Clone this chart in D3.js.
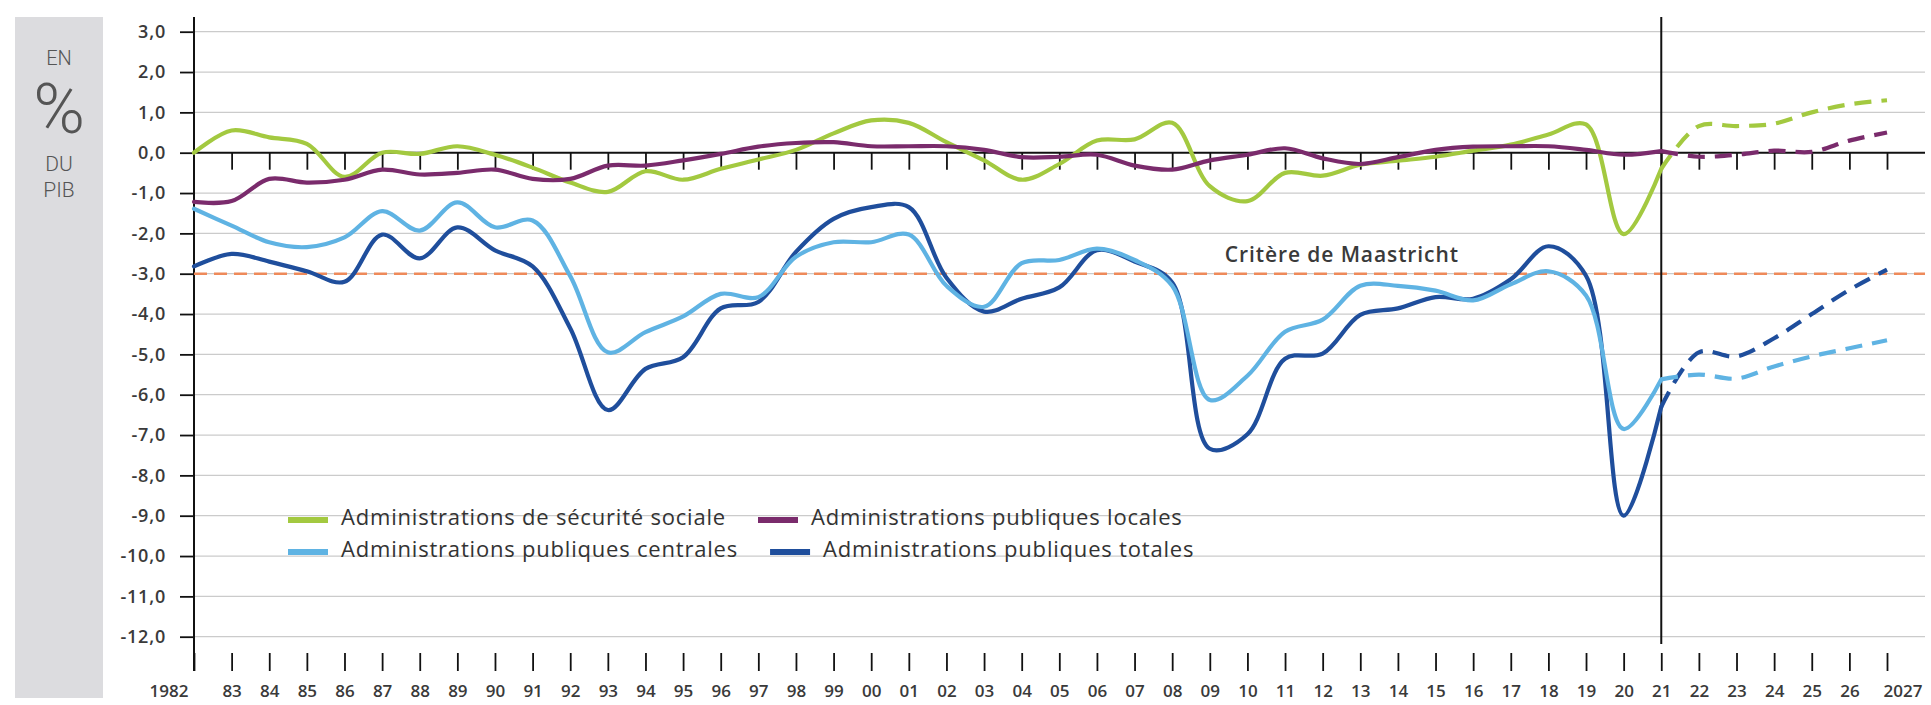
<!DOCTYPE html>
<html lang="fr">
<head>
<meta charset="utf-8">
<script src="https://cdn.jsdelivr.net/npm/d3@7"></script>
<style>
  body { margin: 0; background: #fff; }
  svg { display: block; font-family: "Open Sans", sans-serif; }
</style>
</head>
<body>
<svg id="chart" width="1931" height="705"></svg>
<script>
// observed years and the forecast years (forecast starts at the last observed point)
const years = d3.range(1982, 2022);
const projYears = d3.range(2021, 2028);

// solde en % du PIB
const secu = [0.0, 0.55, 0.38, 0.22, -0.6, 0.0, -0.03, 0.16, -0.05, -0.37,
  -0.74, -0.97, -0.46, -0.67, -0.4, -0.17, 0.07, 0.48, 0.8, 0.74,
  0.26, -0.19, -0.67, -0.28, 0.3, 0.33, 0.74, -0.83, -1.2, -0.5,
  -0.57, -0.3, -0.2, -0.1, 0.05, 0.2, 0.45, 0.7, -2.02, -0.4];
const locales = [-1.22, -1.2, -0.65, -0.74, -0.67, -0.42, -0.54, -0.5, -0.42, -0.65,
  -0.65, -0.32, -0.32, -0.19, -0.03, 0.15, 0.24, 0.26, 0.16, 0.16,
  0.16, 0.07, -0.11, -0.1, -0.05, -0.32, -0.42, -0.19, -0.05, 0.11,
  -0.14, -0.28, -0.11, 0.07, 0.15, 0.16, 0.16, 0.07, -0.05, 0.04];
const centrales = [-1.39, -1.81, -2.22, -2.34, -2.1, -1.45, -1.93, -1.23, -1.85, -1.68,
  -3.06, -4.95, -4.45, -4.06, -3.5, -3.58, -2.58, -2.22, -2.22, -2.03,
  -3.3, -3.82, -2.74, -2.66, -2.38, -2.66, -3.3, -6.13, -5.53, -4.44,
  -4.14, -3.3, -3.3, -3.42, -3.66, -3.26, -2.94, -3.54, -6.85, -5.62];
const totales = [-2.82, -2.51, -2.7, -2.94, -3.2, -2.03, -2.62, -1.85, -2.42, -2.82,
  -4.35, -6.38, -5.36, -5.07, -3.86, -3.7, -2.46, -1.64, -1.35, -1.35,
  -3.1, -3.94, -3.62, -3.34, -2.42, -2.7, -3.22, -7.34, -6.98, -5.11,
  -4.98, -4.02, -3.86, -3.58, -3.62, -3.14, -2.32, -3.05, -9.0, -6.3];

// forecasts 2021-2027
const secuProj = [-0.4, 0.66, 0.66, 0.72, 1.0, 1.2, 1.3];
const localesProj = [0.04, -0.1, -0.05, 0.05, 0.02, 0.3, 0.5];
const centralesProj = [-5.62, -5.5, -5.6, -5.3, -5.05, -4.85, -4.65];
const totalesProj = [-6.3, -4.95, -5.05, -4.6, -4.0, -3.4, -2.9];

const yTicks = d3.range(3, -13, -1);
const xTickLabels = ["1982", "83", "84", "85", "86", "87", "88", "89", "90", "91",
  "92", "93", "94", "95", "96", "97", "98", "99", "00", "01", "02", "03", "04",
  "05", "06", "07", "08", "09", "10", "11", "12", "13", "14", "15", "16", "17",
  "18", "19", "20", "21", "22", "23", "24", "25", "26", "2027"];
const maastricht = -3;
const splitYear = 2021;

const seriesNames = ["Administrations de sécurité sociale", "Administrations publiques locales",
  "Administrations publiques centrales", "Administrations publiques totales"];
const seriesColors = ["#a3c940", "#7a2b6c", "#5fb3e3", "#1f4e9c"];

const svg = d3.select("#chart");

// French number format with a plain hyphen as minus
const fr = d3.formatLocale({decimal: ",", thousands: " ", grouping: [3], currency: ["", " €"], minus: "-"});
const fmt = fr.format(".1f");

// scales
const x = d3.scaleLinear().domain([1982, 2027]).range([194, 1887]);
const y = d3.scaleLinear().domain([3, -12]).range([31.7, 636.7]);
const plotTop = 17, plotRight = 1925, axisBottomY = 653;

// grey side panel with the unit
svg.append("rect")
    .attr("x", 15).attr("y", plotTop)
    .attr("width", 88).attr("height", 681)
    .attr("fill", "#dcdcdf");

// Roboto has tight line metrics, so the big % does not run into EN / DU
const unit = svg.append("g")
    .attr("fill", "#555")
    .attr("text-anchor", "middle")
    .style("font-family", "Roboto, sans-serif")
    .style("font-weight", 300);
unit.append("text").attr("x", 59).attr("y", 65).style("font-size", "20px").text("EN");
unit.append("text").attr("x", 59).attr("y", 133).style("font-size", "70px").text("%");
unit.append("text").attr("x", 59).attr("y", 171).style("font-size", "21px").text("DU");
unit.append("text").attr("x", 59).attr("y", 197).style("font-size", "21px").text("PIB");

// horizontal grid
svg.append("g")
    .selectAll("line")
    .data(yTicks.filter(d => d !== 0))
    .enter().append("line")
    .attr("x1", x(1982)).attr("x2", plotRight)
    .attr("y1", d => y(d)).attr("y2", d => y(d))
    .attr("stroke", "#cbcbcb")
    .attr("stroke-width", 1.2);

// y axis with labels
const yAxis = svg.append("g")
    .attr("transform", "translate(" + x(1982) + ",0)")
    .call(d3.axisLeft(y).tickValues(yTicks).tickSize(14).tickPadding(14).tickFormat(fmt));
yAxis.select(".domain").remove();
yAxis.selectAll("line").attr("stroke", "#111").attr("stroke-width", 1.8);
yAxis.selectAll("text")
    .attr("fill", "#3a3a3a")
    .style("font-size", "18px")
    .style("font-weight", 600)
    .style("letter-spacing", "0.8px")
    .style("font-family", "'Open Sans', sans-serif");

svg.append("line")
    .attr("x1", x(1982)).attr("x2", x(1982))
    .attr("y1", plotTop).attr("y2", axisBottomY + 18)
    .attr("stroke", "#111").attr("stroke-width", 2);

// Maastricht criterion
svg.append("line")
    .attr("x1", x(1982)).attr("x2", plotRight)
    .attr("y1", y(maastricht)).attr("y2", y(maastricht))
    .attr("stroke", "#ee8a5a")
    .attr("stroke-width", 2.6)
    .attr("stroke-dasharray", "13,7");
svg.append("text")
    .attr("x", x(2009.4)).attr("y", y(maastricht) - 12)
    .attr("fill", "#3a3a3a")
    .style("font-size", "21px")
    .style("font-weight", 600)
    .style("letter-spacing", "0.9px")
    .text("Critère de Maastricht");

// zero line with ticks hanging below it
const zeroAxis = svg.append("g")
    .attr("transform", "translate(0," + y(0) + ")")
    .call(d3.axisBottom(x).tickValues(d3.range(1983, 2028)).tickSize(17).tickFormat(""));
zeroAxis.select(".domain").remove();
zeroAxis.selectAll("line").attr("stroke", "#111").attr("stroke-width", 1.8);
svg.append("line")
    .attr("x1", x(1982)).attr("x2", plotRight)
    .attr("y1", y(0)).attr("y2", y(0))
    .attr("stroke", "#111").attr("stroke-width", 2);

// bottom year labels
const xAxis = svg.append("g")
    .attr("transform", "translate(0," + axisBottomY + ")")
    .call(d3.axisBottom(x).tickValues(d3.range(1982, 2028)).tickSize(18).tickPadding(14)
        .tickFormat((d, i) => xTickLabels[i]));
xAxis.select(".domain").remove();
xAxis.selectAll("line").attr("stroke", "#111").attr("stroke-width", 1.8);
xAxis.selectAll("text")
    .attr("fill", "#3a3a3a")
    .style("font-size", "17px")
    .style("font-weight", 600)
    .style("font-family", "'Open Sans', sans-serif");
// first and last labels sit beside their tick
xAxis.selectAll("text").filter(d => d === 1982).attr("text-anchor", "end").attr("x", -6);
xAxis.selectAll("text").filter(d => d === 2027).attr("text-anchor", "start").attr("x", -4);

// vertical line at the start of the forecast
svg.append("line")
    .attr("x1", x(splitYear)).attr("x2", x(splitYear))
    .attr("y1", plotTop).attr("y2", axisBottomY - 9)
    .attr("stroke", "#111").attr("stroke-width", 2);

// series
const line = d3.line()
    .x(d => x(d[0]))
    .y(d => y(d[1]))
    .curve(d3.curveCatmullRom.alpha(0.5));

const observed = [secu, locales, totales, centrales];
const forecast = [secuProj, localesProj, totalesProj, centralesProj];
const drawOrder = [0, 1, 3, 2];

const lines = svg.append("g").attr("fill", "none").attr("stroke-width", 4.2).attr("stroke-linecap", "round");
drawOrder.forEach((c, k) => {
    lines.append("path")
        .attr("d", line(years.map((yr, i) => [yr, observed[k][i]])))
        .attr("stroke", seriesColors[c]);
});
drawOrder.forEach((c, k) => {
    lines.append("path")
        .attr("d", line(projYears.map((yr, i) => [yr, forecast[k][i]])))
        .attr("stroke", seriesColors[c])
        .attr("stroke-linecap", "butt")
        .attr("stroke-dasharray", "17,10");
});

// legend, two rows of two
const legend = svg.append("g");
const rows = [[0, 1], [2, 3]];
rows.forEach((row, r) => {
    let lx = 288;
    const ly = 520 + r * 32;
    row.forEach(s => {
        legend.append("rect")
            .attr("x", lx).attr("y", ly - 3)
            .attr("width", 40).attr("height", 6)
            .attr("fill", seriesColors[s]);
        const t = legend.append("text")
            .attr("x", lx + 53).attr("y", ly + 5)
            .attr("fill", "#333")
            .style("font-size", "22px")
            .style("letter-spacing", "0.8px")
            .text(seriesNames[s]);
        lx = lx + 53 + t.node().getComputedTextLength() + 32;
    });
});
</script>
</body>
</html>
